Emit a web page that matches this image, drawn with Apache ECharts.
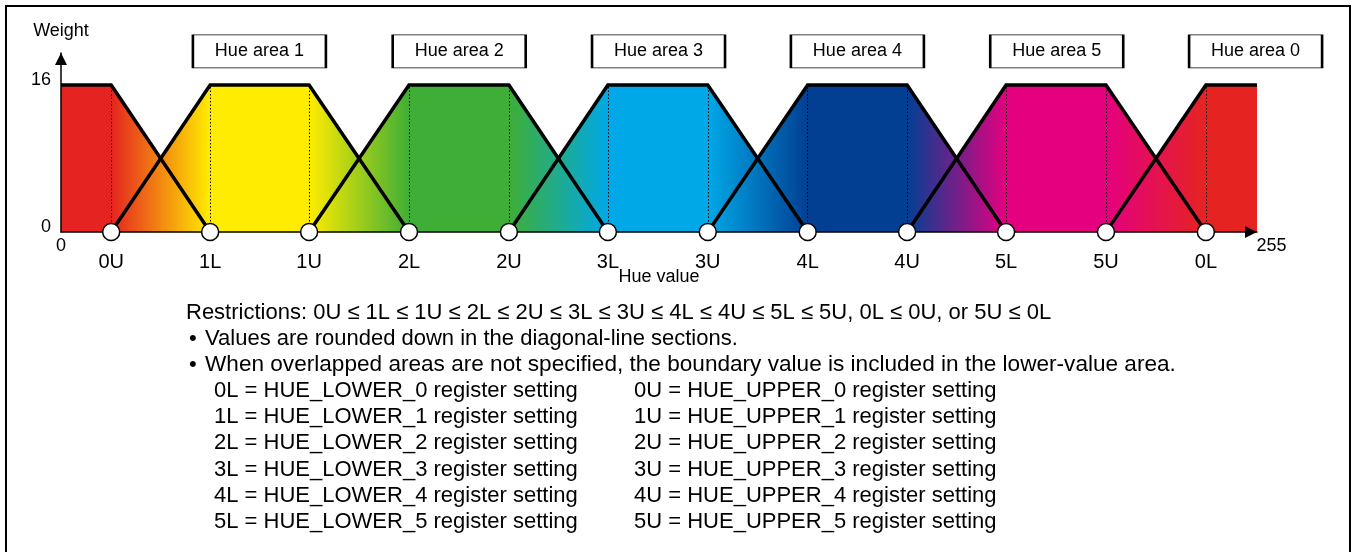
<!DOCTYPE html>
<html>
<head>
<meta charset="utf-8">
<title>Hue areas</title>
<script src="https://cdn.jsdelivr.net/npm/echarts@6/dist/echarts.min.js"></script>
<style>
  html, body { margin: 0; padding: 0; background: #fff; }
  #hue-chart { width: 1354px; height: 552px; }
</style>
</head>
<body>
<div id="hue-chart"></div>
<script>
// boundary points on the hue axis (hue value 0..255)
const pointNames = ['0U', '1L', '1U', '2L', '2U', '3L', '3U', '4L', '4U', '5L', '5U', '0L'];
const pointValues = [10.7, 31.8, 52.9, 74.2, 95.5, 116.6, 137.9, 159.2, 180.4, 201.5, 222.8, 244.1];
const hueMax = 255;
const weightMax = 16;

// hue area boxes above the plateaus
const areaNames = ['Hue area 1', 'Hue area 2', 'Hue area 3', 'Hue area 4', 'Hue area 5', 'Hue area 0'];
const areaLabelX = [42.3, 84.9, 127.4, 169.8, 212.3, 254.7];
const areaLabelY = 19.65;

// colour of hue area 0..5
const areaColors = ['#e52421', '#ffec00', '#3fae36', '#00a8e7', '#023f93', '#e4007f'];

// notes under the chart
const restrictionText = 'Restrictions: 0U \u2264 1L \u2264 1U \u2264 2L \u2264 2U \u2264 3L \u2264 3U \u2264 4L \u2264 4U \u2264 5L \u2264 5U, 0L \u2264 0U, or 5U \u2264 0L';
const bulletTexts = [
  'Values are rounded down in the diagonal-line sections.',
  'When overlapped areas are not specified, the boundary value is included in the lower-value area.'
];
const lowerRegs = ['0L = HUE_LOWER_0 register setting', '1L = HUE_LOWER_1 register setting', '2L = HUE_LOWER_2 register setting',
  '3L = HUE_LOWER_3 register setting', '4L = HUE_LOWER_4 register setting', '5L = HUE_LOWER_5 register setting'];
const upperRegs = ['0U = HUE_UPPER_0 register setting', '1U = HUE_UPPER_1 register setting', '2U = HUE_UPPER_2 register setting',
  '3U = HUE_UPPER_3 register setting', '4U = HUE_UPPER_4 register setting', '5U = HUE_UPPER_5 register setting'];

const FONT = '"Liberation Sans", Arial, Helvetica, sans-serif';
const p = pointValues;

// trapezoid outlines: area 0 is split over both ends of the axis
const outlines = [{ coords: [[0, weightMax], [p[0], weightMax], [p[1], 0]] }];
for (let k = 1; k <= 5; k++) {
  outlines.push({ coords: [[p[2 * k - 2], 0], [p[2 * k - 1], weightMax], [p[2 * k], weightMax], [p[2 * k + 1], 0]] });
}
outlines.push({ coords: [[p[10], 0], [p[11], weightMax], [hueMax, weightMax]] });

// upper envelope of all trapezoids (diagonals cross half way)
const envelope = [[0, weightMax]];
p.forEach(function (v, i) {
  envelope.push([v, weightMax]);
  if (i % 2 === 0 && i + 1 < p.length) {
    envelope.push([(v + p[i + 1]) / 2, weightMax / 2]);
  }
});
envelope.push([hueMax, weightMax]);

// horizontal gradient: solid on plateaus, blended on diagonals
const stops = [{ offset: 0, color: areaColors[0] }];
p.forEach(function (v, i) {
  stops.push({ offset: v / hueMax, color: areaColors[Math.floor((i + 1) / 2) % 6] });
});
stops.push({ offset: 1, color: areaColors[0] });

const dotted = p.map(function (v) { return { coords: [[v, 0], [v, weightMax]] }; });

const chart = echarts.init(document.getElementById('hue-chart'));

const option = {
  animation: false,
  textStyle: { fontFamily: FONT },
  grid: { left: 61, right: 97, top: 53, bottom: 320 },
  xAxis: {
    type: 'value',
    min: 0,
    max: hueMax,
    z: 4,
    name: 'Hue value',
    nameLocation: 'middle',
    nameGap: 45,
    nameTextStyle: { fontSize: 18, color: '#000', verticalAlign: 'middle', fontFamily: FONT },
    axisLine: { lineStyle: { color: '#000', width: 1.5 }, symbol: ['none', 'triangle'], symbolSize: [12, 12], symbolOffset: [0, -6] },
    axisTick: { show: false },
    splitLine: { show: false },
    axisLabel: {
      customValues: [0, hueMax],
      margin: 5,
      fontSize: 18,
      color: '#000',
      fontFamily: FONT,
      formatter: function (v) { return v === hueMax ? '{r|' + v + '}' : String(v); },
      rich: { r: { padding: [0, 0, 0, 29], fontSize: 18, color: '#000', fontFamily: FONT } }
    }
  },
  yAxis: {
    type: 'value',
    min: 0,
    max: 19.48,
    z: 4,
    name: 'Weight',
    nameLocation: 'end',
    nameGap: 22,
    nameTextStyle: { fontSize: 18, color: '#000', verticalAlign: 'middle', align: 'center', fontFamily: FONT },
    axisLine: { lineStyle: { color: '#000', width: 1.5 }, symbol: ['none', 'triangle'], symbolSize: [12, 12], symbolOffset: [0, -6] },
    axisTick: { show: false },
    splitLine: { show: false },
    axisLabel: {
      customValues: [0, weightMax],
      margin: 10,
      color: '#000',
      formatter: function (v) { return '{n|' + v + '}'; },
      rich: { n: { fontSize: 18, color: '#000', fontFamily: FONT, padding: [0, 0, 9, 0] } }
    }
  },
  series: [
    {
      type: 'line',
      data: envelope,
      symbol: 'none',
      silent: true,
      z: 1,
      lineStyle: { width: 0, opacity: 0 },
      areaStyle: { opacity: 1, color: new echarts.graphic.LinearGradient(0, 0, 1, 0, stops) }
    },
    {
      type: 'lines',
      coordinateSystem: 'cartesian2d',
      data: dotted,
      silent: true,
      z: 2,
      lineStyle: { color: '#000', width: 1, type: [1.5, 2], opacity: 1 }
    },
    {
      type: 'lines',
      coordinateSystem: 'cartesian2d',
      polyline: true,
      data: outlines,
      silent: true,
      z: 3,
      lineStyle: { color: '#000', width: 3.5, opacity: 1, join: 'miter' }
    },
    {
      type: 'scatter',
      data: p.map(function (v, i) { return { value: [v, 0], name: pointNames[i] }; }),
      symbolSize: 17,
      z: 6,
      itemStyle: { color: '#fff', borderColor: '#000', borderWidth: 1.5, opacity: 1 },
      label: {
        show: true,
        position: 'bottom',
        distance: 11,
        formatter: '{b}',
        fontSize: 20,
        color: '#000',
        fontFamily: FONT
      }
    },
    {
      type: 'scatter',
      data: areaNames.map(function (n, i) { return { value: [areaLabelX[i], areaLabelY], name: n }; }),
      symbol: 'rect',
      symbolSize: [133, 33],
      clip: false,
      z: 6,
      itemStyle: { color: '#fff', borderColor: '#000', borderWidth: 1.3, opacity: 1 },
      label: {
        show: true,
        position: 'inside',
        formatter: '{b}',
        fontSize: 18,
        color: '#000',
        fontFamily: FONT
      }
    }
  ],
  graphic: []
};

// frame and notes
const g = option.graphic;
g.push({ type: 'rect', silent: true, z: 0, shape: { x: 6, y: 6, width: 1344, height: 600 },
  style: { fill: 'none', stroke: '#000', lineWidth: 2 } });

function note(text, x, y, size) {
  g.push({ type: 'text', silent: true, x: x, y: y,
    style: { text: text, fontSize: size || 22, fontFamily: FONT, fill: '#000', align: 'left', verticalAlign: 'middle' } });
}
note(restrictionText, 186, 313);
bulletTexts.forEach(function (t, i) {
  note('\u2022', 189, 339 + i * 26);
  note(t, 205, 339 + i * 26, i === 0 ? 22 : 22.6);
});
lowerRegs.forEach(function (t, i) {
  note(t, 214, 391 + i * 26.2);
  note(upperRegs[i], 634, 391 + i * 26.2);
});

chart.setOption(option);
</script>
</body>
</html>
